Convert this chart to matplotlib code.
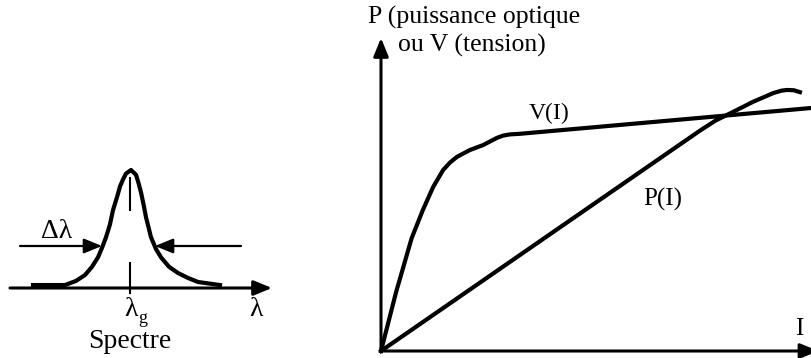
import matplotlib
matplotlib.use("Agg")
import matplotlib.pyplot as plt

plt.rcParams['font.family'] = ['Liberation Serif', 'DejaVu Serif']

# --- spectrum of the LED (wavelength offset from lambda_g, relative intensity)
spec_lambda = [-9.7, -6.5, -5.4, -4.5, -3.8, -3.2, -2.8, -2.4, -2.0, -1.7, -1.3,
               -1.0, -0.7, -0.4, 0.1, 0.6, 0.85, 1.1, 1.35, 1.6,
               2.1, 2.6, 3.1, 3.9, 4.8, 5.8, 6.8, 9.0]
spec_int = [0.025, 0.025, 0.06, 0.11, 0.18, 0.26, 0.34, 0.43, 0.54, 0.66, 0.77,
            0.86, 0.92, 0.97, 1.0, 0.96, 0.89, 0.81, 0.71, 0.60,
            0.43, 0.33, 0.26, 0.18, 0.127, 0.085, 0.051, 0.025]
half_level = 0.356          # level of the width arrows
fwhm_edges = [-2.8, 2.5]     # arrow tips on the flanks

# --- characteristics versus current I
v_current = [0, 3.5, 7.1, 9.7, 12.1, 14.4, 16.0, 17.6, 20.6, 23.7, 26.9,
             28.3, 29.9, 32.3, 99.5]
v_voltage = [0, 18.8, 36.0, 45.0, 52.4, 57.8, 60.2, 62.0, 64.2, 65.8, 68.1,
             68.8, 69.2, 69.4, 77.6]
p_current = [0, 74.0, 77.6, 81.7, 86.3, 89.0, 91.0, 93.0, 94.2, 95.8, 97.2]
p_power = [0, 70.4, 73.6, 76.4, 79.6, 81.2, 82.4, 83.2, 83.4, 83.3, 82.7]

W, H = 812, 358
fig = plt.figure(figsize=(W / 100, H / 100), dpi=100)

arrow_kw = dict(arrowstyle='-|>,head_length=1.1,head_width=0.45', mutation_scale=10,
                color='black', lw=2.2, shrinkA=0, shrinkB=0)
CURVE_LW = 3.0

# ---------------- spectrum panel ----------------
axl = fig.add_axes([10 / W, (H - 288) / H, 262 / W, 177 / H])
axl.set_xlim(-12.0, 14.2)
axl.set_ylim(0, 1.5)
axl.axis('off')

axl.annotate('', xy=(14.2, 0), xytext=(-12.0, 0), arrowprops=arrow_kw,
             annotation_clip=False)
axl.plot(spec_lambda, spec_int, color='black', lw=CURVE_LW, solid_joinstyle='round',
         clip_on=False)
axl.plot([0, 0], [0.66, 0.93], color='black', lw=1.5, clip_on=False)
axl.plot([0, 0], [-0.04, 0.21], color='black', lw=1.5, clip_on=False)

axl.annotate('', xy=(fwhm_edges[0], half_level), xytext=(-11.0, half_level),
             arrowprops=dict(arrow_kw, lw=1.6), annotation_clip=False)
axl.annotate('', xy=(fwhm_edges[1], half_level), xytext=(11.1, half_level),
             arrowprops=dict(arrow_kw, lw=1.6), annotation_clip=False)

axl.text(-7.3, 0.48, 'Δλ', fontsize=20, ha='center', va='center')
axl.text(0.8, -0.18, 'λ', fontsize=20, ha='right', va='center')
axl.text(0.8, -0.26, 'g', fontsize=13, ha='left', va='center')
axl.text(12.6, -0.18, 'λ', fontsize=20, ha='center', va='center')
axl.text(0.0, -0.45, 'Spectre', fontsize=20, ha='center', va='center')

# ---------------- P(I) / V(I) panel ----------------
axr = fig.add_axes([381 / W, (H - 351) / H, 431 / W, 313 / H])
axr.set_xlim(0, 100)
axr.set_ylim(0, 100)
axr.axis('off')

axr.annotate('', xy=(0, 100), xytext=(0, 0), arrowprops=arrow_kw,
             annotation_clip=False)
axr.annotate('', xy=(101.5, 0), xytext=(0, 0), arrowprops=arrow_kw,
             annotation_clip=False)

axr.plot(v_current, v_voltage, color='black', lw=CURVE_LW, solid_joinstyle='round',
         clip_on=False)
axr.plot(p_current, p_power, color='black', lw=CURVE_LW, solid_joinstyle='round',
         clip_on=False)

axr.text(39.0, 76.0, 'V(I)', fontsize=17, ha='center', va='center')
axr.text(65.3, 48.5, 'P(I)', fontsize=18, ha='center', va='center')
axr.text(97.0, 7.0, 'I', fontsize=18, ha='center', va='center')
axr.text(-3.0, 106.5, 'P (puissance optique', fontsize=18.5, ha='left',
         va='center', clip_on=False)
axr.text(3.9, 97.5, 'ou V (tension)', fontsize=18.5, ha='left', va='center',
         clip_on=False)

fig.savefig('out.png', dpi=100, facecolor='white')
